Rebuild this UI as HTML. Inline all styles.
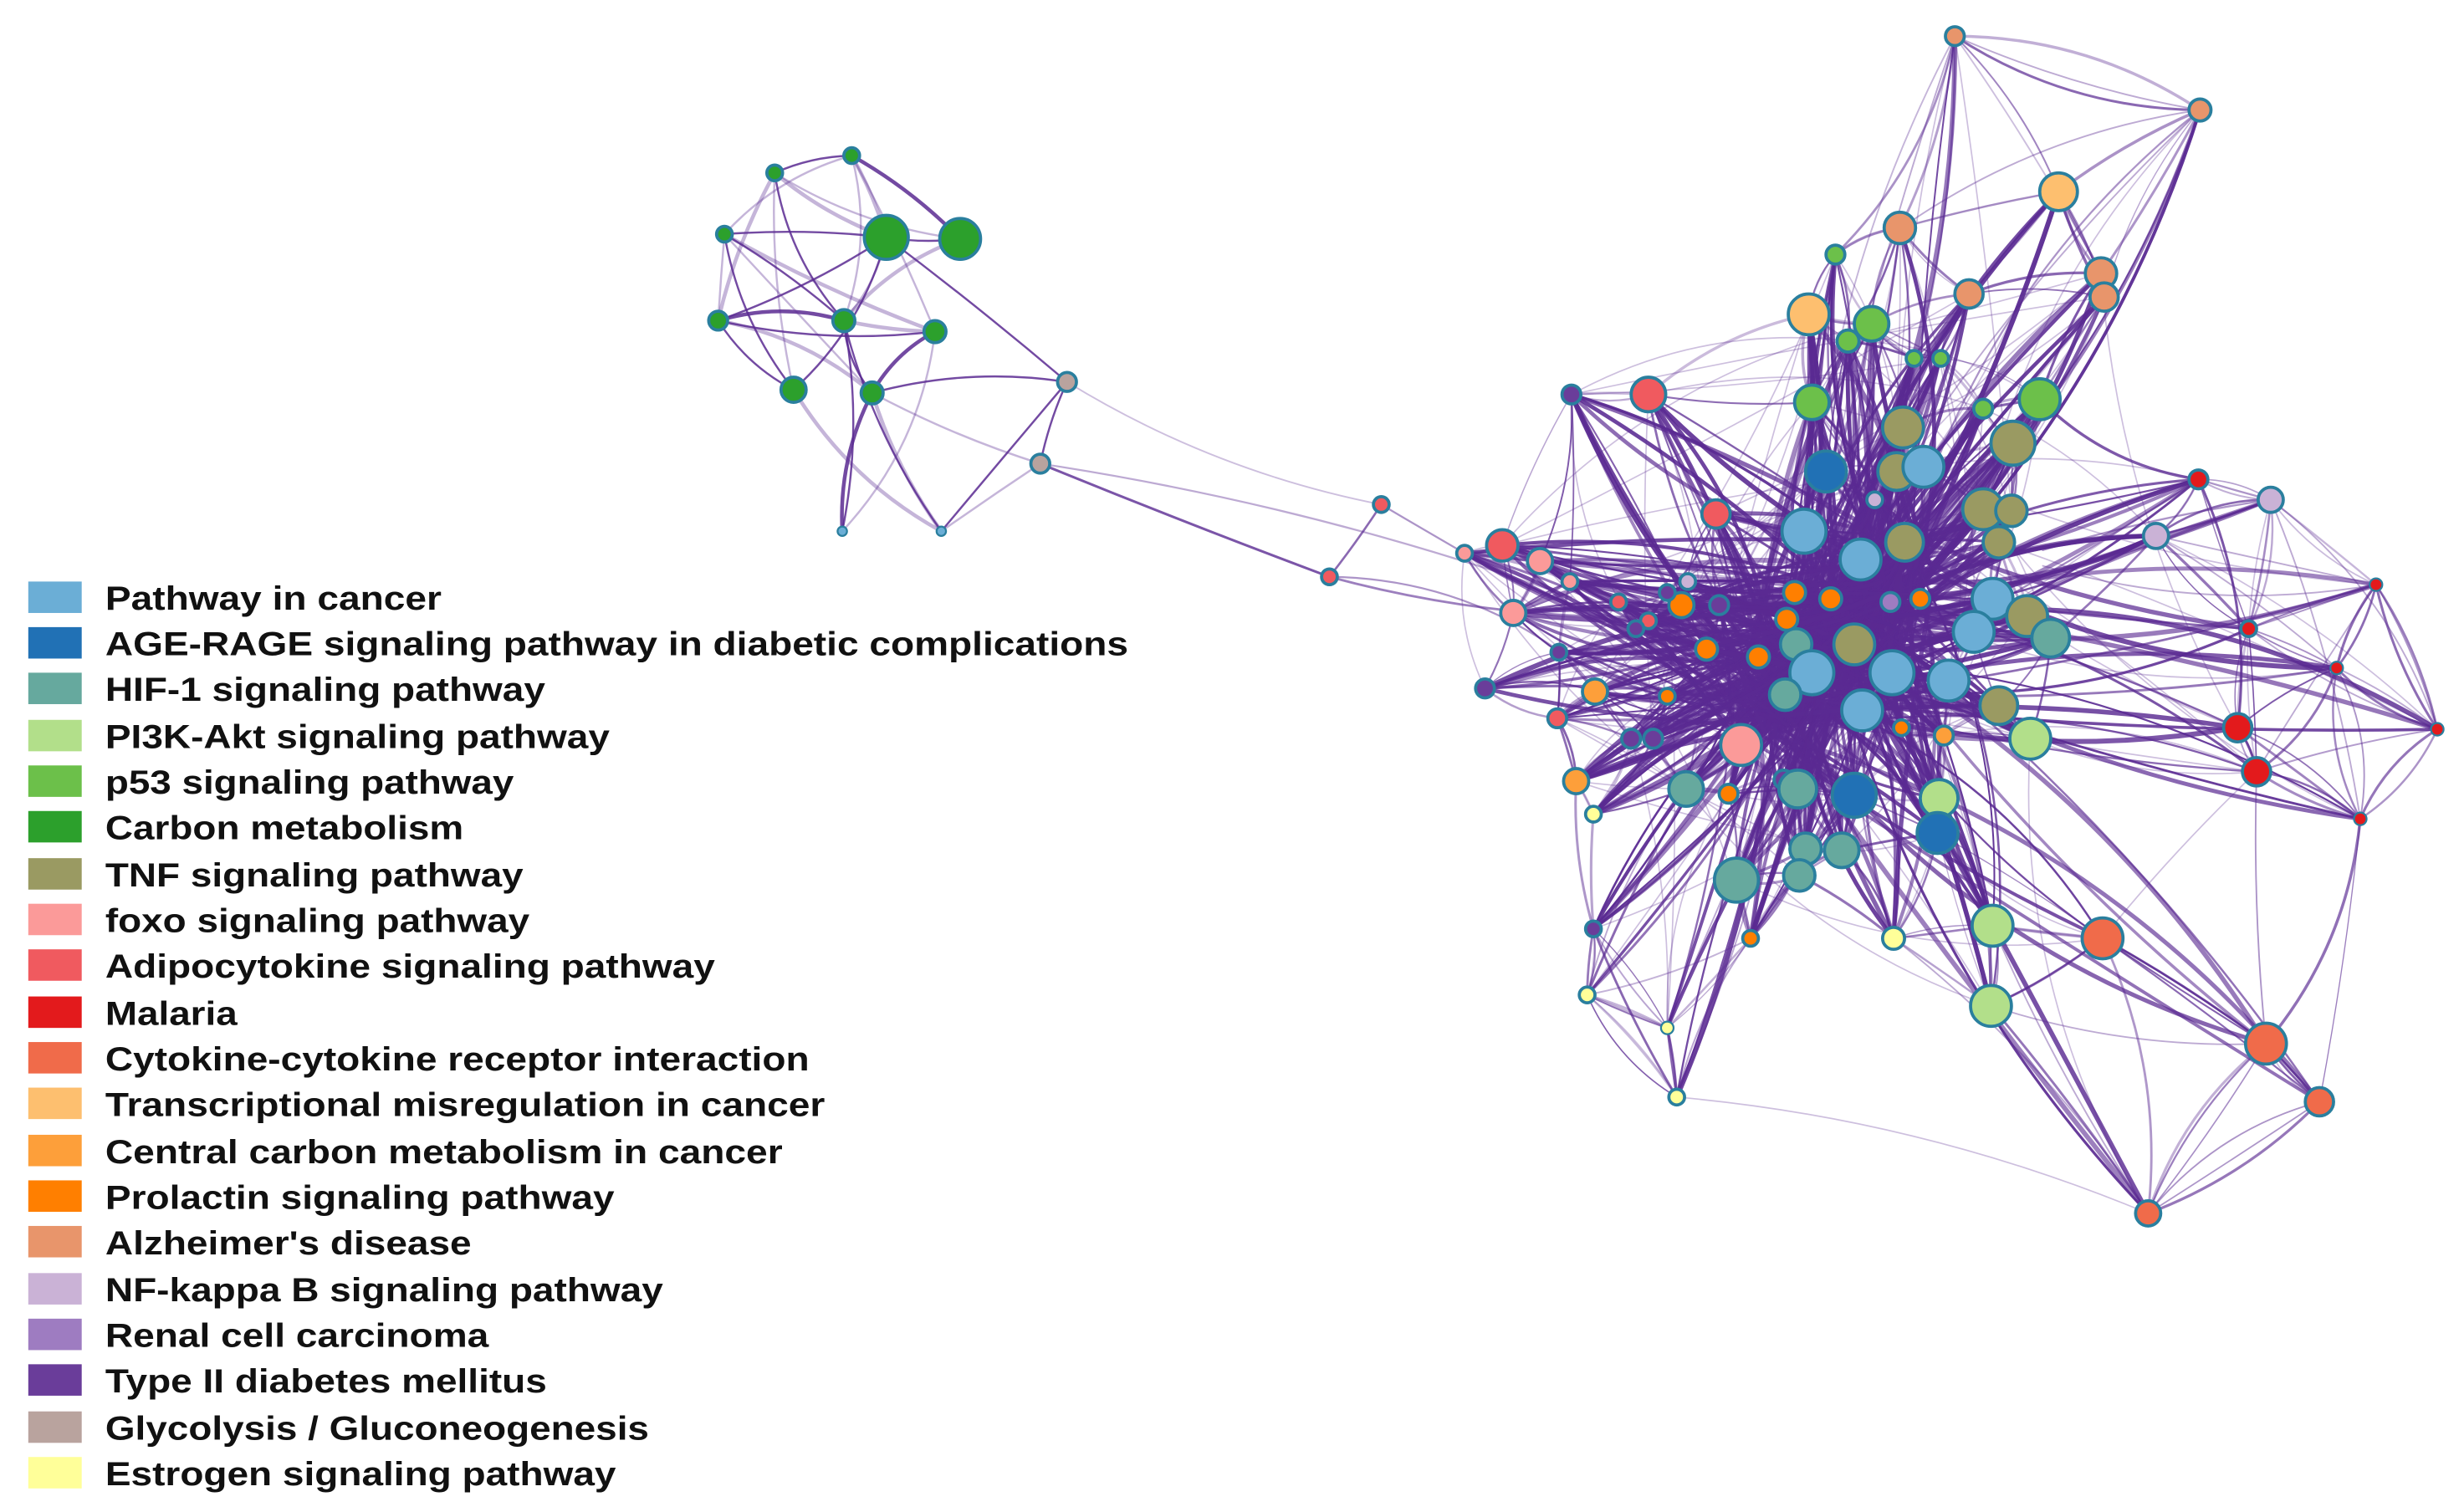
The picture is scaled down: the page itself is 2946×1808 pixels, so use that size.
<!DOCTYPE html>
<html><head><meta charset="utf-8"><style>
html,body{margin:0;padding:0;background:#fff;width:2946px;height:1808px;overflow:hidden}
svg{display:block}
text{font-family:"Liberation Sans",Arial,sans-serif;font-weight:bold;fill:#111}
</style></head><body>
<svg id="s" width="2946" height="1808" viewBox="0 0 1568 962" preserveAspectRatio="none" xmlns="http://www.w3.org/2000/svg">
<g id="edges" fill="none" stroke="#5a2a92" stroke-linecap="round"></g>
<g id="nodes" stroke="#2a7f9e" stroke-width="2"></g>
<g id="legend">
<rect x="18" y="370" width="34" height="20" fill="#6baed6"/><text x="67" y="388" font-size="21" textLength="214" lengthAdjust="spacingAndGlyphs">Pathway in cancer</text>
<rect x="18" y="399" width="34" height="20" fill="#2171b5"/><text x="67" y="417" font-size="21" textLength="651" lengthAdjust="spacingAndGlyphs">AGE-RAGE signaling pathway in diabetic complications</text>
<rect x="18" y="428" width="34" height="20" fill="#66a99e"/><text x="67" y="446" font-size="21" textLength="280" lengthAdjust="spacingAndGlyphs">HIF-1 signaling pathway</text>
<rect x="18" y="458" width="34" height="20" fill="#b2df8a"/><text x="67" y="476" font-size="21" textLength="321" lengthAdjust="spacingAndGlyphs">PI3K-Akt signaling pathway</text>
<rect x="18" y="487" width="34" height="20" fill="#6cc04a"/><text x="67" y="505" font-size="21" textLength="260" lengthAdjust="spacingAndGlyphs">p53 signaling pathway</text>
<rect x="18" y="516" width="34" height="20" fill="#2ca02c"/><text x="67" y="534" font-size="21" textLength="228" lengthAdjust="spacingAndGlyphs">Carbon metabolism</text>
<rect x="18" y="546" width="34" height="20" fill="#9a9a62"/><text x="67" y="564" font-size="21" textLength="266" lengthAdjust="spacingAndGlyphs">TNF signaling pathway</text>
<rect x="18" y="575" width="34" height="20" fill="#fb9a99"/><text x="67" y="593" font-size="21" textLength="270" lengthAdjust="spacingAndGlyphs">foxo signaling pathway</text>
<rect x="18" y="604" width="34" height="20" fill="#f05a5f"/><text x="67" y="622" font-size="21" textLength="388" lengthAdjust="spacingAndGlyphs">Adipocytokine signaling pathway</text>
<rect x="18" y="634" width="34" height="20" fill="#e31a1c"/><text x="67" y="652" font-size="21" textLength="84" lengthAdjust="spacingAndGlyphs">Malaria</text>
<rect x="18" y="663" width="34" height="20" fill="#f06b4a"/><text x="67" y="681" font-size="21" textLength="448" lengthAdjust="spacingAndGlyphs">Cytokine-cytokine receptor interaction</text>
<rect x="18" y="692" width="34" height="20" fill="#fdbf6f"/><text x="67" y="710" font-size="21" textLength="458" lengthAdjust="spacingAndGlyphs">Transcriptional misregulation in cancer</text>
<rect x="18" y="722" width="34" height="20" fill="#fd9f3a"/><text x="67" y="740" font-size="21" textLength="431" lengthAdjust="spacingAndGlyphs">Central carbon metabolism in cancer</text>
<rect x="18" y="751" width="34" height="20" fill="#ff7f00"/><text x="67" y="769" font-size="21" textLength="324" lengthAdjust="spacingAndGlyphs">Prolactin signaling pathway</text>
<rect x="18" y="780" width="34" height="20" fill="#e8956b"/><text x="67" y="798" font-size="21" textLength="233" lengthAdjust="spacingAndGlyphs">Alzheimer's disease</text>
<rect x="18" y="810" width="34" height="20" fill="#cab2d6"/><text x="67" y="828" font-size="21" textLength="355" lengthAdjust="spacingAndGlyphs">NF-kappa B signaling pathway</text>
<rect x="18" y="839" width="34" height="20" fill="#9e7cc1"/><text x="67" y="857" font-size="21" textLength="244" lengthAdjust="spacingAndGlyphs">Renal cell carcinoma</text>
<rect x="18" y="868" width="34" height="20" fill="#6a3d9a"/><text x="67" y="886" font-size="21" textLength="281" lengthAdjust="spacingAndGlyphs">Type II diabetes mellitus</text>
<rect x="18" y="898" width="34" height="20" fill="#b9a39e"/><text x="67" y="916" font-size="21" textLength="346" lengthAdjust="spacingAndGlyphs">Glycolysis / Gluconeogenesis</text>
<rect x="18" y="927" width="34" height="20" fill="#ffff99"/><text x="67" y="945" font-size="21" textLength="325" lengthAdjust="spacingAndGlyphs">Estrogen signaling pathway</text>
</g>
</svg>
<script>
var C={pc:"#6baed6",age:"#2171b5",hif:"#66a99e",pi:"#b2df8a",p53:"#6cc04a",cm:"#2ca02c",tnf:"#9a9a62",fx:"#fb9a99",ad:"#f05a5f",ma:"#e31a1c",cy:"#f06b4a",tr:"#fdbf6f",cc:"#fd9f3a",pr:"#ff7f00",al:"#e8956b",nf:"#cab2d6",rc:"#9e7cc1",t2:"#6a3d9a",gl:"#b9a39e",es:"#ffff99"};
var N=[
[493,110,5,"cm"],[542,99,5,"cm"],[461,149,5,"cm"],[564,151,14,"cm"],[611,152,13,"cm"],[457,204,6,"cm"],[537,204,7,"cm"],[595,211,7,"cm"],[505,248,8,"cm"],[555,250,7,"cm"],[536,338,3,"pc"],[599,338,3,"pc"],[679,243,6,"gl"],[662,295,6,"gl"],
[846,367,5,"ad"],[879,321,5,"ad"],
[1244,23,6,"al"],[1400,70,7,"al"],[1310,122,12,"tr"],[1209,145,10,"al"],[1168,162,6,"p53"],[1253,187,9,"al"],[1337,174,10,"al"],[1339,189,9,"al"],[1151,200,13,"tr"],[1191,206,11,"p53"],[1176,217,7,"p53"],[1218,228,5,"p53"],[1235,228,5,"p53"],[1298,254,13,"p53"],[1153,256,11,"p53"],[1049,251,11,"ad"],[1000,251,6,"t2"],[1262,260,6,"p53"],[1211,272,13,"tnf"],[1281,282,14,"tnf"],[1162,300,13,"age"],[1207,300,12,"tnf"],[1224,297,13,"pc"],[1092,327,9,"ad"],[1148,338,14,"pc"],[1262,324,13,"tnf"],[1280,325,10,"tnf"],[1272,345,10,"tnf"],[1212,345,12,"tnf"],[1193,318,5,"nf"],[1184,356,13,"pc"],[1445,318,8,"nf"],[1399,305,6,"ma"],[1372,341,8,"nf"],
[956,347,10,"ad"],[980,357,8,"fx"],[932,352,5,"fx"],[999,370,5,"fx"],[963,390,8,"fx"],[1070,385,8,"pr"],[1142,377,7,"pr"],[1165,381,7,"pr"],[1137,394,7,"pr"],[1203,383,6,"rc"],[1222,381,6,"pr"],[1268,381,13,"pc"],[1290,392,13,"tnf"],[1305,406,12,"hif"],[1256,402,13,"pc"],[1180,410,13,"tnf"],[1143,410,10,"hif"],[1086,413,7,"pr"],[1119,418,7,"pr"],[1153,428,14,"pc"],[1204,428,14,"pc"],[1240,433,13,"pc"],[1136,442,10,"hif"],[1185,452,13,"pc"],[1272,449,12,"tnf"],[1292,470,13,"pi"],[1108,474,13,"fx"],[1015,440,8,"cc"],[1061,443,5,"pr"],[945,438,6,"t2"],[991,457,6,"ad"],[1038,470,6,"t2"],[1003,497,8,"cc"],[1014,518,5,"es"],[1073,502,11,"hif"],[1100,505,6,"pr"],[1135,496,6,"t2"],[1144,502,12,"hif"],[1180,506,14,"age"],[1234,508,12,"pi"],[1233,530,13,"age"],[1149,540,10,"hif"],[1172,541,11,"hif"],[1105,560,14,"hif"],[1145,557,10,"hif"],[1237,468,6,"cc"],[1210,463,5,"pr"],[1268,589,13,"pi"],[1267,640,13,"pi"],[1205,597,7,"es"],[1114,597,5,"pr"],[1014,591,5,"t2"],[1010,633,5,"es"],[1061,654,4,"es"],[1067,698,5,"es"],[1338,597,13,"cy"],[1442,664,13,"cy"],[1476,701,9,"cy"],[1367,772,8,"cy"],[1424,463,9,"ma"],[1436,491,9,"ma"],[1431,400,5,"ma"],[1487,425,4,"ma"],[1512,372,4,"ma"],[1551,464,4,"ma"],[1502,521,4,"ma"],[1049,395,5,"ad"],[1030,383,5,"ad"],[1061,377,5,"t2"],[1094,385,6,"t2"],[1074,370,5,"nf"],[1041,400,5,"t2"],[1052,470,6,"t2"],[992,415,5,"t2"]
];
var seed=7;function R(){seed=(seed*16807)%2147483647;return seed/2147483647;}
var eg=document.getElementById("edges"),ng=document.getElementById("nodes"),ns="http://www.w3.org/2000/svg";
function E(a,b,w,o){var x1=a[0],y1=a[1],x2=b[0],y2=b[1];var mx=(x1+x2)/2,my=(y1+y2)/2;var dx=x2-x1,dy=y2-y1;var k=(R()-0.5)*0.35;var p=document.createElementNS(ns,"path");p.setAttribute("d","M"+x1+","+y1+" Q"+(mx-dy*k)+","+(my+dx*k)+" "+x2+","+y2);p.setAttribute("stroke-width",w);p.setAttribute("stroke-opacity",o);eg.appendChild(p);}
function P(x,y){return [x,y];}
var G=N.slice(0,14);
for(var i=0;i<G.length;i++)for(var j=i+1;j<G.length;j++){var d=Math.hypot(G[i][0]-G[j][0],G[i][1]-G[j][1]);if(d<150&&R()<0.7)E(G[i],G[j],R()<0.4?2.4:1.3,R()<0.5?0.85:0.35);}
E(N[13],N[14],1.6,0.8);E(N[14],N[15],1.4,0.7);E(N[15],N[52],1.2,0.5);E(N[12],N[15],1,0.3);E(N[13],P(1000,380),1.2,0.4);E(N[14],P(1100,390),1.5,0.6);E(N[14],P(1000,420),1.2,0.5);
var M=N.slice(16);var hubs=[P(1170,390),P(1150,430),P(1190,400),P(1120,450),P(1210,360)];
for(var i=0;i<M.length;i++){var a=M[i];var ds=[];for(var j=0;j<M.length;j++)if(j!=i)ds.push([Math.hypot(a[0]-M[j][0],a[1]-M[j][1]),j]);ds.sort(function(p,q){return p[0]-q[0]});
for(var t=0;t<4;t++)E(a,M[ds[t][1]],R()*1.2+0.7,R()*0.5+0.3);
var dh=Math.hypot(a[0]-1170,a[1]-400);var n=dh<250?8:3;
for(var t=0;t<n;t++){var h=hubs[Math.floor(R()*hubs.length)];E(a,P(h[0]+(R()-0.5)*40,h[1]+(R()-0.5)*40),R()*2.2+1,R()*0.4+0.55);}
for(var t=0;t<2;t++){var b=M[Math.floor(R()*M.length)];if(Math.hypot(a[0]-b[0],a[1]-b[1])<350)E(a,b,0.9,0.3);}}
function I(x1,y1,x2,y2,w,o){E(P(x1,y1),P(x2,y2),w,o);}
I(1338,597,1442,664,1.5,0.8);I(1442,664,1476,701,1.5,0.8);I(1442,664,1367,772,1.2,0.6);I(1267,640,1442,664,1,0.4);I(1436,491,1442,664,1,0.5);I(1476,701,1367,772,1,0.5);I(1205,597,1367,772,1,0.4);I(1268,589,1367,772,1,0.4);
I(1244,23,1400,70,1,0.4);I(1244,23,1190,200,1,0.4);I(1400,70,1230,300,1.2,0.5);I(1400,70,1210,145,1,0.4);I(1244,23,1337,174,1,0.3);I(1400,70,1160,380,1,0.4);I(1244,23,1150,380,1,0.35);
I(1399,305,1424,463,1.6,0.8);I(1424,463,1436,491,1.6,0.8);I(1431,400,1512,372,1,0.5);I(1512,372,1551,464,1,0.5);I(1487,425,1502,521,1,0.5);I(1445,318,1551,464,1,0.4);I(1445,318,1502,521,1,0.4);I(1372,341,1487,425,1,0.4);I(1431,400,1551,464,1,0.4);I(1436,491,1512,372,1,0.4);I(1399,305,1445,318,1.2,0.5);I(1372,341,1512,372,1,0.4);I(1300,350,1445,318,1.2,0.5);I(1300,360,1512,372,1,0.4);
I(1014,591,1010,633,1,0.5);I(1010,633,1061,654,1,0.5);I(1061,654,1067,698,1,0.5);I(1067,698,1140,460,1,0.4);I(1010,633,1150,420,1,0.4);I(1061,654,1160,430,1,0.4);I(1205,597,1180,420,1.2,0.5);I(1114,597,1160,420,1.5,0.7);
for(var k=0;k<N.length;k++){var n=N[k];var c=document.createElementNS(ns,"circle");c.setAttribute("cx",n[0]);c.setAttribute("cy",n[1]);c.setAttribute("r",n[2]);c.setAttribute("fill",C[n[3]]);if(n[2]<5)c.setAttribute("stroke-width",1.2);ng.appendChild(c);}
</script>
</body></html>
